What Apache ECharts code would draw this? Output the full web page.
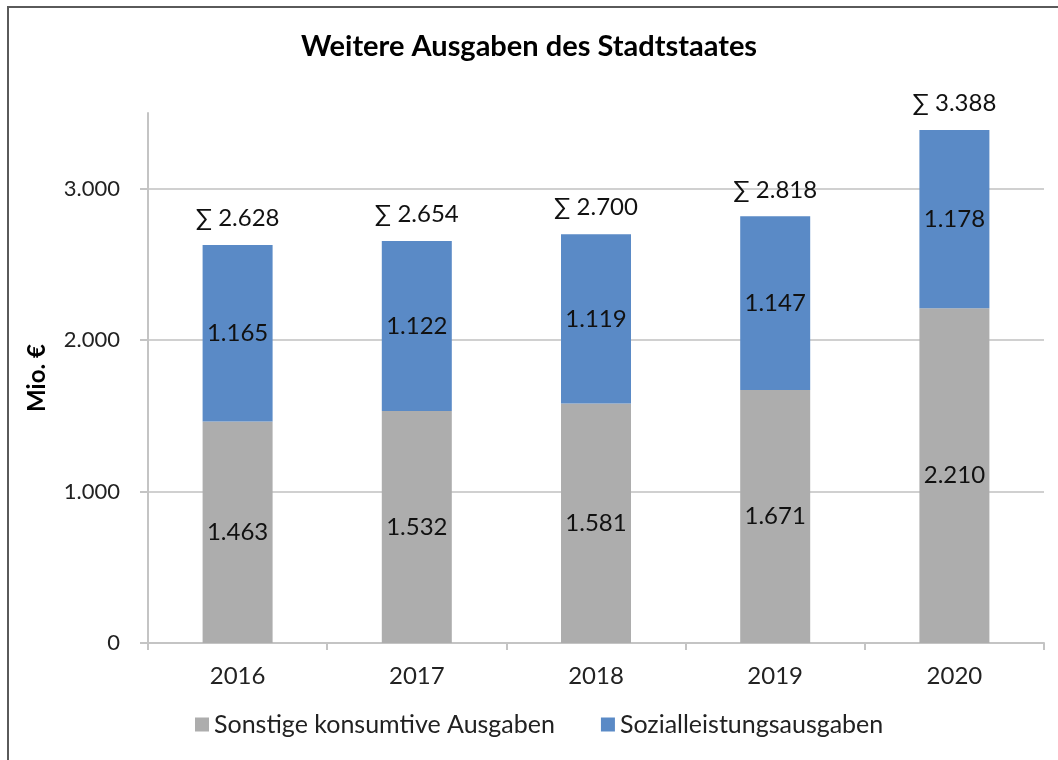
<!DOCTYPE html>
<html>
<head>
<meta charset="utf-8">
<script src="https://cdn.jsdelivr.net/npm/echarts@6/dist/echarts.min.js"></script>
<style>
html,body{margin:0;padding:0;background:#fff;}
#chart{width:1058px;height:760px;}
</style>
</head>
<body>
<div id="chart"></div>
<script>
const categories = ['2016', '2017', '2018', '2019', '2020'];
const sonstige = [1463, 1532, 1581, 1671, 2210];
const sozial = [1165, 1122, 1119, 1147, 1178];
const totals = [2628, 2654, 2700, 2818, 3388];
const yTicks = [0, 1000, 2000, 3000];

const FONT = 'Lato, "Liberation Sans", sans-serif';
function de(v) {
  return String(v).replace(/\B(?=(\d{3})+(?!\d))/g, '.');
}

const chart = echarts.init(document.getElementById('chart'), null, {renderer: 'canvas'});
chart.setOption({
  animation: false,
  backgroundColor: '#ffffff',
  textStyle: {fontFamily: FONT},
  graphic: [{
    type: 'rect',
    shape: {x: 8, y: 7, width: 1100, height: 800},
    style: {fill: 'none', stroke: '#5a5a5a', lineWidth: 2},
    silent: true
  }],
  title: {
    text: 'Weitere Ausgaben des Stadtstaates',
    left: 'center',
    top: 27,
    textStyle: {fontFamily: FONT, fontSize: 29, fontWeight: 'bold', color: '#000'}
  },
  legend: {
    bottom: 18,
    left: 190,
    itemWidth: 14,
    itemHeight: 14,
    itemGap: 46,
    icon: 'rect',
    textStyle: {fontFamily: FONT, fontSize: 25, color: '#222'},
    data: ['Sonstige konsumtive Ausgaben', 'Sozialleistungsausgaben']
  },
  grid: {left: 148, right: 14, top: 113, bottom: 117, containLabel: false},
  xAxis: {
    type: 'category',
    data: categories,
    axisLine: {lineStyle: {color: '#c4c4c4', width: 2}},
    axisTick: {show: true, length: 7, lineStyle: {color: '#c4c4c4', width: 2}},
    axisLabel: {fontFamily: FONT, fontSize: 24, color: '#222', margin: 21}
  },
  yAxis: {
    type: 'value',
    min: 0,
    max: 3500,
    interval: 1000,
    name: 'Mio. €',
    nameLocation: 'middle',
    nameGap: 99,
    nameTextStyle: {fontFamily: FONT, fontSize: 24, fontWeight: 'bold', color: '#000'},
    axisLine: {show: true, lineStyle: {color: '#c4c4c4', width: 2}},
    axisTick: {show: true, length: 8, customValues: yTicks, lineStyle: {color: '#c4c4c4', width: 2}},
    axisLabel: {fontFamily: FONT, fontSize: 22, color: '#222', margin: 28, customValues: yTicks,
      formatter: v => de(v)},
    splitLine: {show: true, lineStyle: {color: ['#d0d0d0', '#d0d0d0', '#d0d0d0', '#d0d0d0', 'rgba(0,0,0,0)'], width: 2}}
  },
  series: [
    {
      name: 'Sonstige konsumtive Ausgaben',
      type: 'bar',
      stack: 'a',
      barWidth: 70,
      data: sonstige,
      itemStyle: {color: '#adadad'},
      label: {show: true, position: 'inside', fontFamily: FONT, fontSize: 24, color: '#111',
        formatter: p => de(p.value)}
    },
    {
      name: 'Sozialleistungsausgaben',
      type: 'bar',
      stack: 'a',
      barWidth: 70,
      data: sozial,
      itemStyle: {color: '#5a8ac6'},
      label: {show: true, position: 'inside', fontFamily: FONT, fontSize: 24, color: '#111',
        formatter: p => de(p.value)}
    },
    {
      name: 'Summe',
      type: 'line',
      data: totals,
      symbol: 'circle',
      symbolSize: 1,
      showSymbol: true,
      itemStyle: {color: 'rgba(0,0,0,0)'},
      lineStyle: {opacity: 0},
      silent: true,
      z: 5,
      label: {show: true, position: 'top', distance: 14, fontFamily: FONT, fontSize: 24, color: '#111',
        formatter: p => '∑ ' + de(p.value)}
    }
  ]
});
</script>
</body>
</html>
